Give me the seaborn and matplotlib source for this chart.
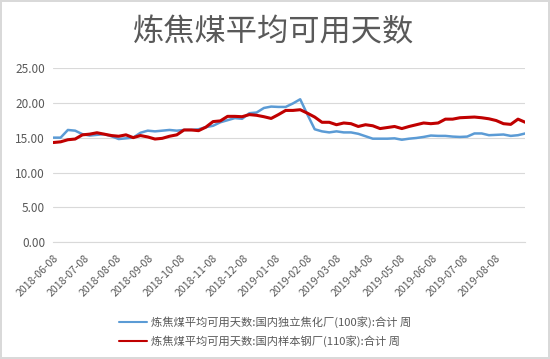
import pandas as pd
import matplotlib
matplotlib.use('Agg')
import matplotlib.pyplot as plt
import matplotlib.dates as mdates
import seaborn as sns

# weekly data, 2018-06-08 .. 2019-09-06
start_date = '2018-06-08'
n_weeks = 66

coking_plants = [
    15.0, 15.0, 16.1, 16.0, 15.5, 15.3, 15.4, 15.5, 15.2, 14.8,
    14.9, 15.0, 15.7, 16.0, 15.9, 16.0, 16.1, 16.0, 16.1, 16.1,
    16.2, 16.5, 16.7, 17.2, 17.5, 17.8, 17.7, 18.5, 18.6, 19.25,
    19.45, 19.4, 19.4, 19.9, 20.5, 18.3, 16.2, 15.9, 15.75, 15.9,
    15.75, 15.75, 15.55, 15.2, 14.85, 14.85, 14.85, 14.9, 14.7, 14.85,
    14.95, 15.1, 15.3, 15.25, 15.25, 15.15, 15.1, 15.15, 15.6, 15.6,
    15.35, 15.4, 15.45, 15.25, 15.35, 15.6,
]
steel_mills = [
    14.3, 14.4, 14.7, 14.8, 15.4, 15.5, 15.7, 15.5, 15.3, 15.2,
    15.4, 15.0, 15.3, 15.1, 14.8, 14.9, 15.2, 15.4, 16.1, 16.1,
    16.0, 16.5, 17.3, 17.4, 18.05, 18.05, 18.0, 18.3, 18.2, 18.0,
    17.75, 18.3, 18.9, 18.9, 19.0, 18.5, 17.95, 17.2, 17.2, 16.85,
    17.1, 17.0, 16.6, 16.85, 16.7, 16.3, 16.45, 16.6, 16.3, 16.6,
    16.85, 17.1, 17.0, 17.1, 17.65, 17.65, 17.85, 17.9, 17.95, 17.85,
    17.7, 17.45, 17.0, 16.9, 17.65, 17.2,
]

series_names = [
    '炼焦煤平均可用天数:国内独立焦化厂(100家):合计 周',
    '炼焦煤平均可用天数:国内样本钢厂(110家):合计 周',
]
title = '炼焦煤平均可用天数'

dates = pd.date_range(start_date, periods=n_weeks, freq='7D')
df = pd.concat([
    pd.DataFrame({'date': dates, 'value': coking_plants, 'series': series_names[0]}),
    pd.DataFrame({'date': dates, 'value': steel_mills, 'series': series_names[1]}),
])

sns.set_style('white')
plt.rcParams['font.family'] = ['Noto Sans CJK SC', 'DejaVu Sans']

gray = '#595959'
fig = plt.figure(figsize=(5.5, 3.59), dpi=100, linewidth=1.5, edgecolor='#d9d9d9')
ax = fig.add_axes([0.097, 0.325, 0.858, 0.486])

sns.lineplot(data=df, x='date', y='value', hue='series', ax=ax,
             palette={series_names[0]: '#5b9bd5', series_names[1]: '#c00000'})
for line, lw in zip(ax.lines, [1.8, 2.2]):
    line.set_linewidth(lw)

ax.set_ylim(0, 25)
ax.set_yticks([0, 5, 10, 15, 20, 25])
ax.set_yticklabels([f'{v:.2f}' for v in [0, 5, 10, 15, 20, 25]], color=gray, fontsize=8.5)
ax.yaxis.grid(True, color='#d9d9d9', linewidth=0.8)
ax.tick_params(axis='y', length=0, pad=6)

ax.set_xlim(dates[0], dates[-1])
ax.xaxis.set_major_locator(mdates.MonthLocator(bymonthday=8))
ax.xaxis.set_major_formatter(mdates.DateFormatter('%Y-%m-%d'))
ax.tick_params(axis='x', length=4, color='#d9d9d9', direction='out', labelsize=7.6, labelcolor=gray)
plt.setp(ax.get_xticklabels(), rotation=45, ha='right', rotation_mode='anchor')

for side in ['left', 'right', 'top']:
    ax.spines[side].set_visible(False)
ax.spines['bottom'].set_color('#d9d9d9')
ax.set_xlabel('')
ax.set_ylabel('')

fig.text(0.497, 0.91, title, ha='center', va='center', fontsize=22.5,
         color=gray, fontweight='light')

ax.legend(loc='center', bbox_to_anchor=(0.482, 0.077), bbox_transform=fig.transFigure,
          frameon=False, fontsize=8.1, labelcolor=gray, handlelength=2.5,
          handletextpad=0.3, labelspacing=0.6)

fig.savefig('out.png', dpi=100)
